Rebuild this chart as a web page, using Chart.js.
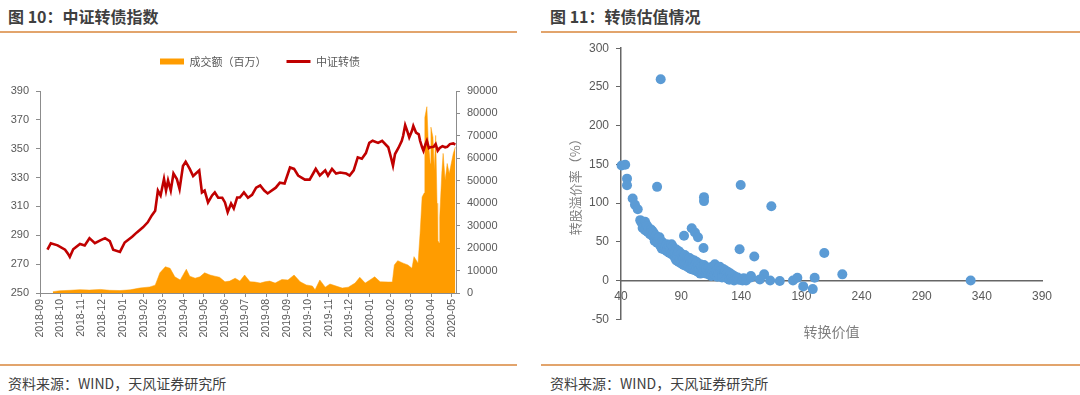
<!DOCTYPE html>
<html><head><meta charset="utf-8">
<script src="https://cdn.jsdelivr.net/npm/chart.js@4.4.1/dist/chart.umd.min.js"></script>
<style>
html,body{margin:0;padding:0;background:#fff;width:1080px;height:395px;overflow:hidden;position:relative;font-family:"Noto Sans CJK SC",sans-serif;}
.title{position:absolute;top:5px;font-size:16px;font-weight:bold;color:#3f3f3f;line-height:22px;white-space:nowrap;}
.rule{position:absolute;height:2px;background:#e2a46c;}
.src{position:absolute;top:374px;font-size:14px;color:#404040;line-height:18px;white-space:nowrap;}
canvas{position:absolute;}
</style></head>
<body>
<div class="title" style="left:8px">图 10：中证转债指数</div>
<div class="title" style="left:550px">图 11：转债估值情况</div>
<div class="rule" style="left:0;width:517px;top:31px"></div>
<div class="rule" style="left:541px;width:539px;top:31px"></div>
<canvas id="c1" width="520" height="320" style="left:0;top:36px"></canvas>
<canvas id="c2" width="540" height="326" style="left:540px;top:34px"></canvas>
<div class="rule" style="left:0;width:517px;top:364px"></div>
<div class="rule" style="left:541px;width:539px;top:364px"></div>
<div class="src" style="left:8px">资料来源：WIND，天风证券研究所</div>
<div class="src" style="left:550px">资料来源：WIND，天风证券研究所</div>
<script>
// ---- Left chart data ----
const monthLabels = ['2018-09','2018-10','2018-11','2018-12','2019-01','2019-02','2019-03','2019-04','2019-05','2019-06','2019-07','2019-08','2019-09','2019-10','2019-11','2019-12','2020-01','2020-02','2020-03','2020-04','2020-05'];
const idxDates = ['2018-09-12','2018-09-17','2018-09-27','2018-10-08','2018-10-12','2018-10-15','2018-10-20','2018-10-30','2018-11-06','2018-11-13','2018-11-21','2018-11-29','2018-12-06','2018-12-13','2018-12-18','2018-12-28',
'2019-01-04','2019-01-15','2019-01-22','2019-01-31','2019-02-07','2019-02-13','2019-02-18','2019-02-22','2019-02-26','2019-03-03','2019-03-06','2019-03-09','2019-03-13','2019-03-17','2019-03-22','2019-03-26','2019-03-31','2019-04-04','2019-04-10','2019-04-15','2019-04-19','2019-04-24','2019-04-28','2019-05-02','2019-05-07','2019-05-13','2019-05-17','2019-05-22','2019-05-28','2019-06-01','2019-06-05','2019-06-10','2019-06-14','2019-06-19','2019-06-23','2019-06-29','2019-07-05','2019-07-11','2019-07-17','2019-07-23','2019-07-29','2019-08-03','2019-08-06','2019-08-15','2019-08-21','2019-08-28','2019-09-05','2019-09-11','2019-09-17','2019-09-27','2019-10-04','2019-10-10','2019-10-13','2019-10-19','2019-10-27','2019-10-31','2019-11-06','2019-11-12','2019-11-18','2019-11-27','2019-12-02','2019-12-08','2019-12-14','2019-12-20','2019-12-26','2019-12-31',
'2020-01-05','2020-01-13','2020-01-19','2020-01-28','2020-02-01','2020-02-04','2020-02-07','2020-02-12','2020-02-17','2020-02-19','2020-02-22','2020-02-25','2020-02-28','2020-03-03','2020-03-05','2020-03-09','2020-03-13','2020-03-15','2020-03-18','2020-03-20','2020-03-23','2020-03-25','2020-03-28','2020-03-30','2020-04-04','2020-04-07','2020-04-10','2020-04-13','2020-04-17','2020-04-21','2020-04-24','2020-04-28','2020-05-03','2020-05-06'];
const idxValues = [280,284.5,283,280,277.4,275,280.3,284,283,288,284.5,286.5,288,286,280,278.5,
285,289,292,295.5,299,303.8,307,321,317.6,329,321,328,321,332.8,329,322,338,341,336,331,332.8,335,319.7,321,312.8,317.6,319.7,316,316,312.8,306,312,308.6,316.2,316.2,319.7,316,318,323,324.5,321,319,320,323,326.5,325.9,337,336,331.4,328.6,328.6,333.5,336,331.4,335,331.4,336,332.8,333.5,332.8,331.4,335,344,343,347,354,
355.5,354,355.5,351,344,338.3,346.3,350.5,355.5,359,366.3,362.4,357.8,362.4,365.8,361.2,360,355.5,351,348.6,353.2,355.5,350.5,351,351.3,353.2,348.6,350.5,351.8,351,351.3,353.2,353.7,352.9];
const volDates = ['2018-09-20','2018-09-30','2018-10-15','2018-10-30','2018-11-13','2018-11-29','2018-12-13','2018-12-28','2019-01-12','2019-01-26','2019-02-10','2019-02-18','2019-02-25','2019-03-05','2019-03-12','2019-03-19','2019-03-27','2019-04-05','2019-04-10','2019-04-18','2019-04-25','2019-05-02','2019-05-10','2019-05-17','2019-05-24','2019-06-01','2019-06-08','2019-06-16','2019-06-23','2019-06-30','2019-07-08','2019-07-15','2019-07-23','2019-07-30','2019-08-06','2019-08-14','2019-08-24','2019-09-02','2019-09-11','2019-09-20','2019-09-29','2019-10-08','2019-10-12','2019-10-19','2019-10-27','2019-11-03','2019-11-12','2019-11-21','2019-11-30','2019-12-10','2019-12-17','2019-12-25',
'2020-01-01','2020-01-08','2020-01-16','2020-01-28','2020-02-03','2020-02-06','2020-02-11','2020-02-19','2020-02-26','2020-03-03','2020-03-06','2020-03-12','2020-03-15','2020-03-18','2020-03-21','2020-03-22','2020-03-25','2020-03-27','2020-03-30','2020-03-31','2020-04-03','2020-04-05','2020-04-07','2020-04-09','2020-04-10','2020-04-12','2020-04-13','2020-04-16','2020-04-18','2020-04-21','2020-04-24','2020-04-27','2020-04-30','2020-05-03','2020-05-06'];
const volValues = [600,1000,1200,1500,1300,1600,1200,1100,1400,2200,2700,3500,9000,11700,11000,7200,5800,10600,7500,6600,7200,9000,8000,7500,7000,5000,5300,6600,5300,8000,5000,4900,4400,5000,5300,4400,6000,5800,8000,5000,3600,3100,1400,5800,2600,4000,3100,2200,2600,4400,7000,4400,
5800,7200,5000,4900,4900,12500,14400,13300,12500,11000,16200,13300,26600,42800,44500,78300,83000,68000,57700,73900,69400,54700,70200,40000,23600,22300,34000,53200,62200,50200,57700,53200,57700,62200,65000];
const idxTicks = [250,270,290,310,330,350,370,390];
const volTicks = [0,10000,20000,30000,40000,50000,60000,70000,80000,90000];

// ---- Right chart data ----
const cvValues = [73,40.5,43.5,45,45,70,139.5,109,109,165,49.7,51.6,53.9,92.4,98.8,101.5,104,108.6,138.6,150.8,148,159,155.5,164,172,183,186.6,191.5,199.4,201,209,224,330.7,
 56,57,58,59,60,58,61,
 60,62,62,63,64,65,66,66,67,68,68,69,70,70,71,72,
 72,73,74,74,75,76,76,77,78,78,79,80,80,81,82,82,83,83,
 84,84,85,85,86,86,87,87,88,88,89,89,90,90,91,91,
 92,92,93,93,94,94,95,95,96,96,97,97,98,98,99,99,100,100,
 101,101,102,102,103,103,104,104,105,106,106,107,107,108,108,109,110,110,
 111,111,112,113,113,114,115,115,116,116,117,118,118,119,120,120,
 121,122,122,123,124,124,125,126,126,127,128,128,129,130,130,
 131,132,133,133,134,135,136,137,138,140,141,142,144,148];
const premValues = [260,148.6,149.5,131.6,123,121,123.4,107.7,102.6,96,106,98,92,57.8,67.6,62,56,42,40.5,31,5.8,8,1.5,0,-0.5,0,3.7,-7.5,-11,3.7,35.7,8,0,
 78,75,73,70,76,68,72,
 65,63,70,67,60,66,64,58,62,55,51,58,54,49,53,56,
 47,44,50,41,47,45,40,43,47,38,42,36,45,40,47,34,38,44,
 32,41,36,29,40,26,34,30,38,24,32,28,35,22,30,26,
 20,28,33,24,19,27,22,30,17,25,21,29,15,24,19,27,14,23,
 18,26,13,21,16,24,11,19,15,21,9,13,18,15,10,20,12,17,
 9,15,13,17,8,11,14,6,18,10,13,21,8,12,15,5,
 10,18,7,13,9,4,15,11,6,13,8,3,11,6,1,
 9,4,2,7,0,5,2,4,1,1,0,3,0,4];
const cvTicks = [40,90,140,190,240,290,340,390];
const premTicks = [-50,0,50,100,150,200,250,300];

// ---- build ----
const FAM = "'Liberation Sans','Noto Sans CJK SC',sans-serif";
const CJK = "'Noto Sans CJK SC',sans-serif";
Chart.defaults.font.family = FAM;
const baseDay = Date.UTC(2018, 8, 1);
const toDay = s => { const p = s.split('-').map(Number); return (Date.UTC(p[0], p[1] - 1, p[2] || 1) - baseDay) / 86400000; };
const idxPoints = idxDates.map((d, i) => ({x: toDay(d), y: idxValues[i]}));
const volPoints = volDates.map((d, i) => ({x: toDay(d), y: volValues[i]}));
const monthTicks = monthLabels.map(l => toDay(l));

const legendPad = { id: 'legendPad', beforeLayout(chart) {
  const lg = chart.legend;
  if (lg && !lg._padded) { const f = lg.fit; lg.fit = function () { f.call(this); this.height += 14; }; lg._padded = true; }
}};

new Chart(document.getElementById('c1'), {
  data: { datasets: [
    { type: 'line', label: '成交额（百万）', data: volPoints, yAxisID: 'y2', backgroundColor: '#FF9C00', borderColor: '#FF9C00', borderWidth: 0.5, fill: 'origin', pointRadius: 0, tension: 0, order: 2, pointStyle: 'rect' },
    { type: 'line', label: '中证转债', data: idxPoints, yAxisID: 'y', backgroundColor: '#C00000', borderColor: '#C00000', borderWidth: 2.6, fill: false, pointRadius: 0, tension: 0, order: 1, pointStyle: 'line' }
  ]},
  options: {
    responsive: false, animation: false,
    layout: { padding: 0 },
    plugins: {
      tooltip: { enabled: false },
      legend: { position: 'top', align: 'center', labels: {
        usePointStyle: true, pointStyleWidth: 24, boxHeight: 6, padding: 20,
        font: { size: 11, family: CJK }, color: '#595959',
        sort: (a, b) => a.datasetIndex - b.datasetIndex,
        generateLabels(chart) {
          const items = Chart.defaults.plugins.legend.labels.generateLabels(chart);
          items.forEach(it => {
            if (it.datasetIndex === 0) { it.lineWidth = 0; it.pointStyle = 'rect'; it.fillStyle = '#FF9C00'; }
            else { it.lineWidth = 3; it.pointStyle = 'line'; it.strokeStyle = '#C00000'; }
          });
          return items;
        }
      }}
    },
    scales: {
      x: { type: 'linear', min: 0, max: 614,
        afterBuildTicks(s) { s.ticks = monthTicks.map(v => ({ value: v })); },
        afterFit(s) { s.height = 63; },
        ticks: { autoSkip: false, minRotation: 90, maxRotation: 90, callback: (v, i) => monthLabels[i], font: { size: 10.5 }, color: '#595959', padding: 2 },
        grid: { display: true, drawOnChartArea: false, drawTicks: true, tickLength: 4, color: '#8c8c8c' },
        border: { color: '#8c8c8c', width: 1 } },
      y: { position: 'left', min: 250, max: 390,
        afterBuildTicks(s) { s.ticks = idxTicks.map(v => ({ value: v })); },
        afterFit(s) { s.width = 40; },
        ticks: { callback: v => String(v), font: { size: 11 }, color: '#595959', padding: 7 },
        grid: { drawOnChartArea: false, tickLength: 4, color: '#8c8c8c' },
        border: { color: '#8c8c8c', width: 1 } },
      y2: { position: 'right', min: 0, max: 90000,
        afterBuildTicks(s) { s.ticks = volTicks.map(v => ({ value: v })); },
        afterFit(s) { s.width = 64; },
        ticks: { callback: v => String(v), font: { size: 11 }, color: '#595959', padding: 7 },
        grid: { drawOnChartArea: false, tickLength: 4, color: '#8c8c8c' },
        border: { color: '#8c8c8c', width: 1 } }
    }
  },
  plugins: [legendPad]
});

new Chart(document.getElementById('c2'), {
  type: 'scatter',
  data: { datasets: [{ data: cvValues.map((x, i) => ({ x: x, y: premValues[i] })), backgroundColor: '#5B9BD5', borderColor: '#5B9BD5', borderWidth: 0, pointRadius: 5, clip: false }] },
  options: {
    responsive: false, animation: false,
    layout: { padding: { top: 11.7, left: 0, right: 38, bottom: 40.7 } },
    plugins: { legend: { display: false }, tooltip: { enabled: false } },
    scales: {
      x: { type: 'linear', position: { y: 0 }, min: 40, max: 390,
        afterBuildTicks(s) { s.ticks = cvTicks.map(v => ({ value: v })); },
        ticks: { callback: v => String(v), font: { size: 12 }, color: '#595959', padding: 9 },
        grid: { display: false, drawTicks: false },
        border: { display: true, color: '#666666', width: 1.5 },
        title: { display: true, text: '转换价值', font: { size: 14, family: CJK }, color: '#7f7f7f', padding: { top: 10, bottom: 0 } } },
      y: { position: 'left', min: -50, max: 300,
        afterBuildTicks(s) { s.ticks = premTicks.map(v => ({ value: v })); },
        afterFit(s) { s.width = 81; },
        ticks: { callback: v => String(v), font: { size: 12 }, color: '#595959', padding: 7 },
        grid: { drawOnChartArea: false, drawTicks: true, tickLength: 5, color: '#666666' },
        border: { color: '#666666', width: 1.5 },
        title: { display: true, text: '转股溢价率（%）', font: { size: 13, family: CJK }, color: '#7f7f7f', padding: { top: 27, bottom: 0 } } }
    }
  }
});
</script>
</body></html>
